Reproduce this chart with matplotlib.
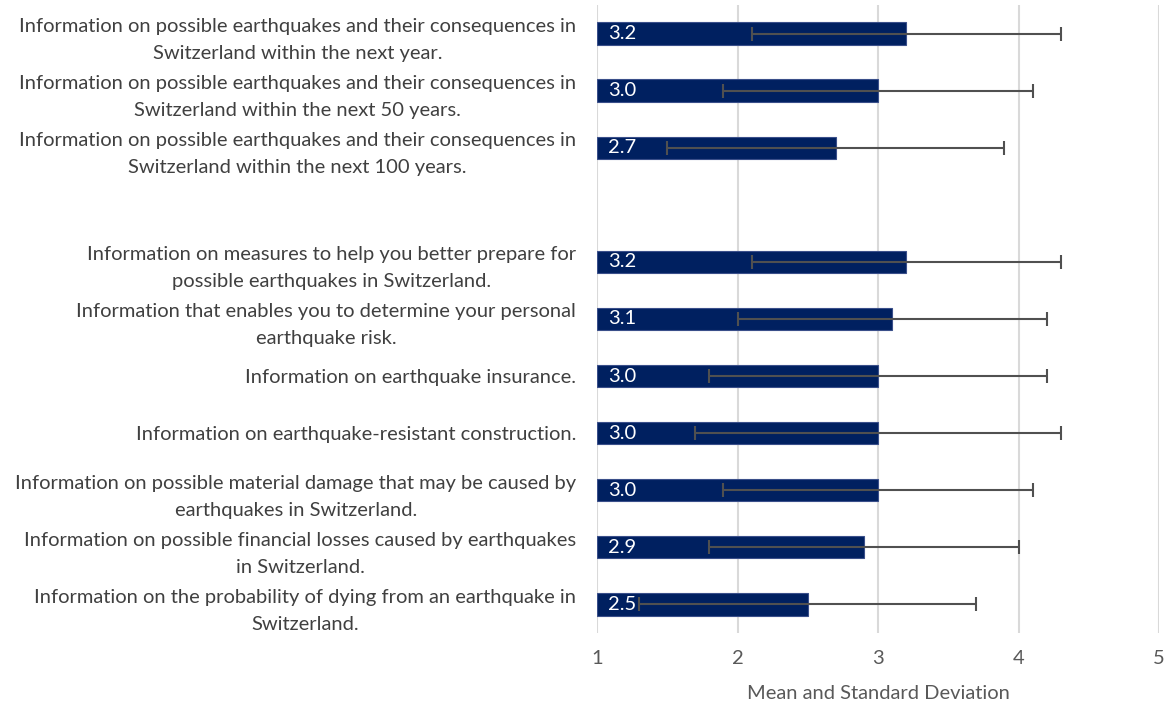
import matplotlib
matplotlib.use("Agg")
import matplotlib.pyplot as plt

plt.rcParams['font.family'] = ['Lato', 'DejaVu Sans']

labels = [
    "Information on possible earthquakes and their consequences in\nSwitzerland within the next year.",
    "Information on possible earthquakes and their consequences in\nSwitzerland within the next 50 years.",
    "Information on possible earthquakes and their consequences in\nSwitzerland within the next 100 years.",
    "",
    "Information on measures to help you better prepare for\npossible earthquakes in Switzerland.",
    "Information that enables you to determine your personal\nearthquake risk.",
    "Information on earthquake insurance.",
    "Information on earthquake-resistant construction.",
    "Information on possible material damage that may be caused by\nearthquakes in Switzerland.",
    "Information on possible financial losses caused by earthquakes\nin Switzerland.",
    "Information on the probability of dying from an earthquake in\nSwitzerland.",
]
means = [3.2, 3.0, 2.7, None, 3.2, 3.1, 3.0, 3.0, 3.0, 2.9, 2.5]
sds = [1.1, 1.1, 1.2, None, 1.1, 1.1, 1.2, 1.3, 1.1, 1.1, 1.2]
xticks = [1, 2, 3, 4, 5]
xlabel = "Mean and Standard Deviation"

fig = plt.figure(figsize=(11.7, 7.02), dpi=100)
ax = fig.add_axes([0.5103, 0.0983, 0.4803, 0.8946])

base = 1
n = len(labels)
ypos = list(range(n))
for i, (m, s) in enumerate(zip(means, sds)):
    if m is None:
        continue
    ax.barh(i, m - base, left=base, height=0.39, color='#002060',
            edgecolor='#3A4F8A', linewidth=0.8, zorder=2)
    ax.errorbar(m, i, xerr=s, fmt='none', ecolor='#505050', elinewidth=1.5,
                capsize=5, capthick=1.5, zorder=3)
    ax.annotate(f"{m:.1f}", xy=(base, i), xytext=(8, 0), textcoords='offset points',
                ha='left', va='center', color='white', fontsize=14.5, zorder=4)

ax.set_xlim(1, 5)
ax.set_ylim(n - 0.5, -0.5)
ax.set_xticks(xticks)
ax.set_xticklabels([str(t) for t in xticks])
ax.set_yticks(ypos)
ax.set_yticklabels(labels)
for t in ax.get_yticklabels():
    t.set_multialignment('center')
    t.set_linespacing(1.7)
ax.tick_params(axis='y', length=0, pad=15, labelsize=14.5, labelcolor='#404040')
ax.tick_params(axis='x', length=0, pad=12, labelsize=14.5, labelcolor='#595959')
ax.grid(axis='x', color='#D9D9D9', linewidth=1.5, zorder=0)
ax.set_axisbelow(True)
for sp in ax.spines.values():
    sp.set_visible(False)
ax.set_xlabel(xlabel, fontsize=14.5, color='#595959', labelpad=13)

fig.savefig("out.png", dpi=100)
